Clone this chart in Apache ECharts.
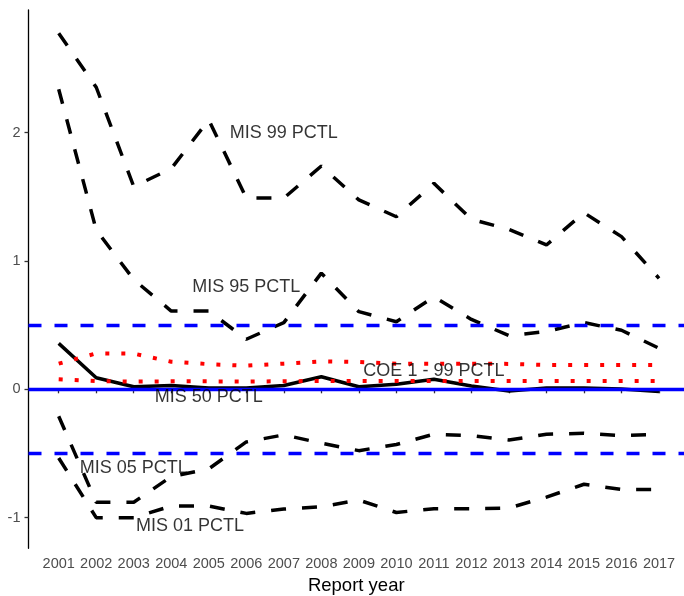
<!DOCTYPE html>
<html><head><meta charset="utf-8">
<script src="https://cdn.jsdelivr.net/npm/echarts@6/dist/echarts.min.js"></script>
<style>html,body{margin:0;padding:0;background:#fff}#c{width:684px;height:596px}</style>
</head><body><div id="c"></div>
<script>
const years = [2001,2002,2003,2004,2005,2006,2007,2008,2009,2010,2011,2012,2013,2014,2015,2016,2017];
const mis99 = [2.775,2.354,1.58,1.72,2.10,1.49,1.49,1.74,1.476,1.345,1.605,1.325,1.247,1.125,1.376,1.19,0.865];
const mis95 = [2.338,1.242,0.855,0.61,0.61,0.39,0.52,0.905,0.605,0.527,0.72,0.545,0.418,0.45,0.52,0.46,0.32];
const mis50 = [0.358,0.09,0.02,0.03,0.01,0.01,0.03,0.098,0.02,0.04,0.078,0.026,-0.013,0.01,0.01,0.003,-0.018];
const mis05 = [-0.21,-0.88,-0.88,-0.68,-0.62,-0.41,-0.355,-0.42,-0.478,-0.43,-0.35,-0.36,-0.395,-0.35,-0.343,-0.36,-0.35];
const mis01 = [-0.535,-1.0,-1.0,-0.91,-0.91,-0.967,-0.933,-0.915,-0.863,-0.96,-0.93,-0.93,-0.925,-0.84,-0.74,-0.78,-0.78];
const coeHi = [0.2,0.28,0.278,0.215,0.196,0.184,0.2,0.218,0.213,0.2,0.2,0.2,0.198,0.19,0.19,0.19,0.19];
const coeLo = [0.078,0.065,0.06,0.062,0.062,0.06,0.063,0.065,0.065,0.065,0.065,0.065,0.065,0.065,0.065,0.065,0.065];
const yTicks = [-1,0,1,2];
const refDashed = [0.5,-0.5];
const refSolid = [0];
const labelText = ['MIS 99 PCTL','MIS 95 PCTL','MIS 50 PCTL','COE 1 - 99 PCTL','MIS 05 PCTL','MIS 01 PCTL'];
const labelX = [2007,2006,2005,2011,2003,2004.5];
const labelY = [2.0,0.8,-0.06,0.14,-0.61,-1.065];

const chart = echarts.init(document.getElementById('c'), null, {renderer:'canvas'});
const pair = arr => years.map((y,i)=>[y,arr[i]]);
const font = 'Liberation Sans, Arial, sans-serif';
function blackLine(arr, dashed){
  return {type:'line', data:pair(arr), symbol:'none', silent:true, z:3,
    lineStyle:{color:'#000', width:3.5, type: dashed ? [15,16] : 'solid', cap:'butt'}};
}
function redLine(arr){
  return {type:'line', data:pair(arr), symbol:'none', silent:true, z:4,
    lineStyle:{color:'#ff0000', width:4, type:[4,12], cap:'butt'}};
}
const option = {
  animation:false,
  backgroundColor:'#fff',
  grid:{left:28.5, right:0, top:10, bottom:47.7, containLabel:false, outerBoundsMode:'none'},
  xAxis:{type:'value', min:2000.195, max:2017.666,
    axisLine:{show:true, lineStyle:{color:'#000', width:1.3}},
    axisTick:{show:true, length:4, customValues:years, lineStyle:{color:'#333', width:1.3}},
    axisLabel:{customValues:years, formatter:v=>String(v), color:'#4d4d4d', fontSize:14.5, margin:8, fontFamily:font},
    splitLine:{show:false},
    name:'Report year', nameLocation:'middle', nameGap:28,
    nameTextStyle:{color:'#000', fontSize:18.5, fontFamily:font}},
  yAxis:{type:'value', min:-1.239, max:2.956,
    axisLine:{show:true, lineStyle:{color:'#000', width:1.3}},
    axisTick:{show:true, length:4, customValues:yTicks, lineStyle:{color:'#333', width:1.3}},
    axisLabel:{customValues:yTicks, formatter:v=>String(v), color:'#4d4d4d', fontSize:14.5, margin:8, fontFamily:font},
    splitLine:{show:false}},
  series:[
    {type:'line', data:[], silent:true, z:2,
      markLine:{silent:true, symbol:'none', label:{show:false},
        data:[
          ...refDashed.map(v=>({yAxis:v, lineStyle:{color:'#0000ff', width:3.3, type:[13,13]}})),
          ...refSolid.map(v=>({yAxis:v, lineStyle:{color:'#0000ff', width:3.3, type:'solid'}}))
        ]}},
    blackLine(mis99,true),
    blackLine(mis95,true),
    blackLine(mis50,false),
    blackLine(mis05,true),
    blackLine(mis01,true),
    redLine(coeHi),
    redLine(coeLo),
    {type:'scatter', silent:true, z:6, symbolSize:1, itemStyle:{color:'rgba(0,0,0,0)'},
      data:labelX.map((x,i)=>({value:[x,labelY[i]], name:labelText[i]})),
      label:{show:true, position:'inside', formatter:'{b}', color:'#000', fontSize:18, fontFamily:font}}
  ]
};
chart.setOption(option);
</script>
</body></html>
